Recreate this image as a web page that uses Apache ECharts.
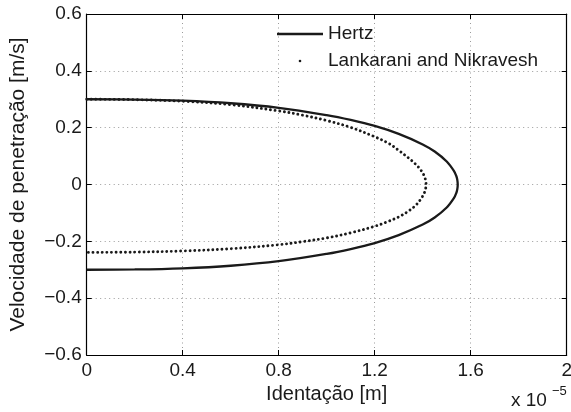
<!DOCTYPE html>
<html>
<head>
<meta charset="utf-8">
<script src="https://cdn.jsdelivr.net/npm/echarts@6/dist/echarts.min.js"></script>
<style>
  html, body { margin: 0; padding: 0; background: #ffffff; }
  #chart { width: 571px; height: 412px; }
</style>
</head>
<body>
<div id="chart"></div>
<script>
// Indentation (x 1e-5 m) and penetration velocity (m/s) along each contact cycle
const hertzDelta = [0, 0.2, 0.4, 0.6, 0.8, 1.0, 1.1, 1.2, 1.3, 1.4, 1.45, 1.5, 1.53, 1.54, 1.544, 1.546,
                    1.544, 1.54, 1.53, 1.5, 1.45, 1.4, 1.3, 1.2, 1.1, 1.0, 0.8, 0.6, 0.4, 0.2, 0];
const hertzVel   = [0.3, 0.299, 0.295, 0.286, 0.27, 0.244, 0.227, 0.206, 0.178, 0.141, 0.116, 0.081, 0.048, 0.030, 0.017, 0,
                    -0.017, -0.030, -0.048, -0.081, -0.116, -0.141, -0.178, -0.206, -0.227, -0.244, -0.27, -0.286, -0.295, -0.299, -0.3];

const lnDelta = [0, 0.2, 0.4, 0.6, 0.8, 0.9, 1.0, 1.1, 1.2, 1.26, 1.3, 1.34, 1.37, 1.39, 1.405, 1.412, 1.414,
                 1.412, 1.405, 1.39, 1.37, 1.34, 1.3, 1.25, 1.2, 1.1, 1.0, 0.9, 0.8, 0.6, 0.4, 0.2, 0];
const lnVel   = [0.3, 0.2985, 0.293, 0.281, 0.259, 0.244, 0.225, 0.201, 0.168, 0.144, 0.120, 0.094, 0.072, 0.053, 0.033, 0.015, 0,
                 -0.015, -0.033, -0.054, -0.074, -0.094, -0.114, -0.132, -0.147, -0.170, -0.188, -0.201, -0.212, -0.226, -0.234, -0.238, -0.239];

// Tick values and their printed labels
const xTicks = [0, 0.4, 0.8, 1.2, 1.6, 2];
const xTickLabels = ['0', '0.4', '0.8', '1.2', '1.6', '2'];
const yTicks = [-0.6, -0.4, -0.2, 0, 0.2, 0.4, 0.6];
const yTickLabels = ['\u22120.6', '\u22120.4', '\u22120.2', '0', '0.2', '0.4', '0.6'];

const seriesNames = ['Hertz', 'Lankarani and Nikravesh'];

const FONT = '"Liberation Sans", Arial, Helvetica, sans-serif';
const INK = '#1a1a1a';

function pairs(xs, ys) { return xs.map((x, i) => [x, ys[i]]); }
function tickLabel(ticks, labels) {
  return function (v) {
    for (let i = 0; i < ticks.length; i++) {
      if (Math.abs(ticks[i] - v) < 1e-9) return labels[i];
    }
    return '';
  };
}

const gridLine = { show: true, lineStyle: { color: '#9a9a9a', width: 1, type: [1, 3.5] } };
const frameLine = { show: true, onZero: false, lineStyle: { color: '#000', width: 1.2 } };
const innerTick = { show: true, inside: true, length: 5, lineStyle: { color: '#000', width: 1 } };

const chart = echarts.init(document.getElementById('chart'), null, { renderer: 'canvas' });

chart.setOption({
  animation: false,
  backgroundColor: '#ffffff',
  textStyle: { fontFamily: FONT },
  grid: { left: 86.7, right: 4.3, top: 14, bottom: 57, outerBoundsMode: 'none', containLabel: false },
  legend: {
    orient: 'vertical',
    left: 277,
    top: 24,
    itemWidth: 46,
    itemHeight: 2.6,
    itemGap: 7,
    padding: 0,
    selectedMode: false,
    textStyle: { fontFamily: FONT, fontSize: 19, color: INK, lineHeight: 20 },
    data: [
      { name: seriesNames[0], icon: 'rect', itemStyle: { color: INK, borderWidth: 0 } },
      { name: seriesNames[1], icon: 'circle', itemStyle: { color: INK, borderWidth: 0 } }
    ]
  },
  xAxis: [
    {
      type: 'value', position: 'bottom', min: 0, max: 2, interval: 0.4,
      axisLine: frameLine, axisTick: innerTick, splitLine: gridLine,
      axisLabel: { margin: 6, fontSize: 19, color: INK, fontFamily: FONT, formatter: tickLabel(xTicks, xTickLabels) },
      name: 'Identação [m]', nameLocation: 'middle', nameGap: 29, nameMoveOverlap: false,
      nameTextStyle: { fontSize: 20, color: INK, fontFamily: FONT }
    },
    {
      type: 'value', position: 'top', min: 0, max: 2, interval: 0.4,
      axisLine: frameLine, axisTick: innerTick, splitLine: { show: false }, axisLabel: { show: false }
    }
  ],
  yAxis: [
    {
      type: 'value', position: 'left', min: -0.6, max: 0.6, interval: 0.2,
      axisLine: frameLine, axisTick: innerTick, splitLine: gridLine,
      axisLabel: { margin: 5, fontSize: 19, color: INK, fontFamily: FONT, formatter: tickLabel(yTicks, yTickLabels) },
      name: 'Velocidade de penetração [m/s]', nameLocation: 'middle', nameGap: 58, nameMoveOverlap: false,
      nameTextStyle: { fontSize: 21, color: INK, fontFamily: FONT }
    },
    {
      type: 'value', position: 'right', min: -0.6, max: 0.6, interval: 0.2,
      axisLine: frameLine, axisTick: innerTick, splitLine: { show: false }, axisLabel: { show: false }
    }
  ],
  graphic: [
    { type: 'text', left: 511, top: 391, style: { text: 'x 10', fontSize: 19, fontFamily: FONT, fill: INK } },
    { type: 'text', left: 552, top: 385, style: { text: '\u22125', fontSize: 13, fontFamily: FONT, fill: INK } }
  ],
  series: [
    {
      name: seriesNames[0], type: 'line', xAxisIndex: 0, yAxisIndex: 0,
      data: pairs(hertzDelta, hertzVel),
      showSymbol: false, symbol: 'none', smooth: 0.35,
      itemStyle: { color: INK },
      lineStyle: { color: INK, width: 2.3 },
      z: 3
    },
    {
      name: seriesNames[1], type: 'line', xAxisIndex: 0, yAxisIndex: 0,
      data: pairs(lnDelta, lnVel),
      showSymbol: false, symbol: 'none', smooth: 0.35,
      itemStyle: { color: INK },
      lineStyle: { color: INK, width: 2.9, type: [0.01, 4.6], cap: 'round' },
      z: 4
    }
  ]
});
</script>
</body>
</html>
